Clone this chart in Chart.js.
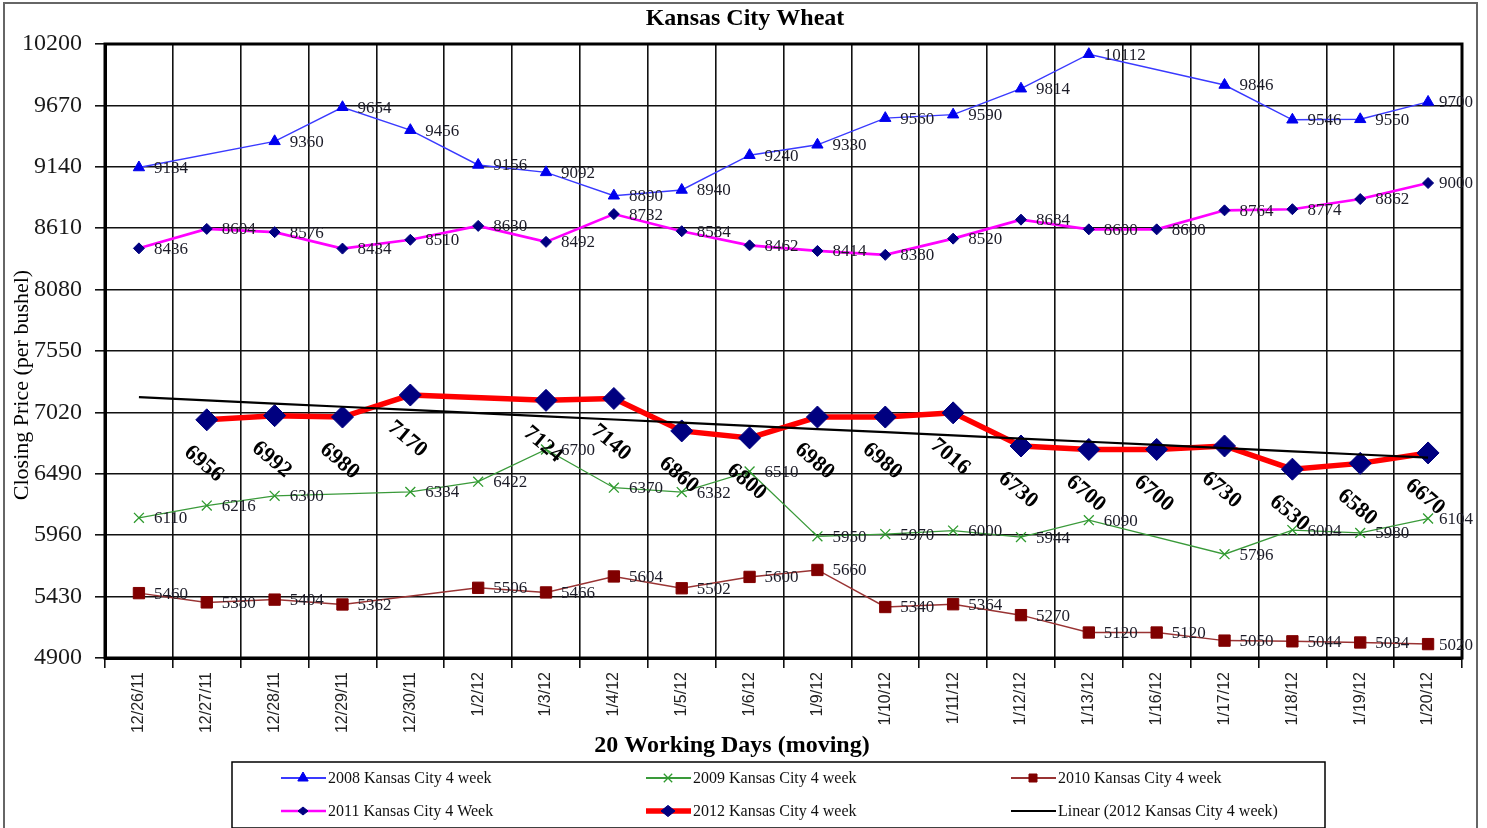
<!DOCTYPE html>
<html>
<head>
<meta charset="utf-8">
<script src="https://cdn.jsdelivr.net/npm/chart.js@4.4.1/dist/chart.umd.min.js"></script>
<style>
html,body{margin:0;padding:0;background:#fff;overflow:hidden}
#c{display:block}
</style>
</head>
<body>
<canvas id="c" width="1487" height="828"></canvas>
<script>
// ---------- data ----------
const categories = ['12/26/11','12/27/11','12/28/11','12/29/11','12/30/11','1/2/12','1/3/12','1/4/12','1/5/12','1/6/12',
                    '1/9/12','1/10/12','1/11/12','1/12/12','1/13/12','1/16/12','1/17/12','1/18/12','1/19/12','1/20/12'];
const yTickValues = [4900,5430,5960,6490,7020,7550,8080,8610,9140,9670,10200];

const kc2008 = [9134,null,9360,9654,9456,9156,9092,8890,8940,9240,9330,9560,9590,9814,10112,null,9846,9546,9550,9700];
const kc2009 = [6110,6216,6300,null,6334,6422,6700,6370,6332,6510,5950,5970,6000,5944,6090,null,5796,6004,5980,6104];
const kc2010 = [5460,5380,5404,5362,null,5506,5466,5604,5502,5600,5660,5340,5364,5270,5120,5120,5050,5044,5034,5020];
const kc2011 = [8436,8604,8576,8434,8510,8630,8492,8732,8584,8462,8414,8380,8520,8684,8600,8600,8764,8774,8862,9000];
const kc2012 = [null,6956,6992,6980,7170,null,7124,7140,6860,6800,6980,6980,7016,6730,6700,6700,6730,6530,6580,6670];

const seriesNames = ['2008 Kansas City 4 week','2009 Kansas City 4 week','2010 Kansas City 4 week',
                     '2011 Kansas City 4 Week','2012 Kansas City 4 week','Linear (2012 Kansas City 4 week)'];

// Excel-style linear trendline (least squares over category index) of the 2012 series
function linearTrend(vals){
  let n=0,sx=0,sy=0,sxy=0,sxx=0;
  vals.forEach((v,i)=>{ if(v==null) return; const x=i+1; n++; sx+=x; sy+=v; sxy+=x*v; sxx+=x*x; });
  const b=(n*sxy-sx*sy)/(n*sxx-sx*sx), a=(sy-b*sx)/n;
  return vals.map((_,i)=>a+b*(i+1));
}
const trend2012 = linearTrend(kc2012);

// ---------- plugin: frame, title, border, labels, legend ----------
const SERIF = '"Liberation Serif","Times New Roman",serif';
function marker(ctx, style, x, y, r, fill, stroke, lw){
  ctx.save();
  ctx.beginPath();
  ctx.fillStyle = fill; ctx.strokeStyle = stroke; ctx.lineWidth = lw || 1;
  if(style==='triangle'){
    ctx.moveTo(x, y - r); ctx.lineTo(x + r*0.866, y + r*0.5); ctx.lineTo(x - r*0.866, y + r*0.5); ctx.closePath();
    ctx.fill(); ctx.stroke();
  } else if(style==='rect'){
    ctx.rect(x-r, y-r, 2*r, 2*r); ctx.fill(); ctx.stroke();
  } else if(style==='rectRot'){
    ctx.moveTo(x-r,y); ctx.lineTo(x,y-r*0.8); ctx.lineTo(x+r,y); ctx.lineTo(x,y+r*0.8); ctx.closePath();
    ctx.fill(); ctx.stroke();
  } else if(style==='crossRot'){
    ctx.moveTo(x-r*0.7,y-r*0.7); ctx.lineTo(x+r*0.7,y+r*0.7);
    ctx.moveTo(x+r*0.7,y-r*0.7); ctx.lineTo(x-r*0.7,y+r*0.7);
    ctx.stroke();
  }
  ctx.restore();
}

const decor = {
  id: 'decor',
  beforeDraw(chart){
    const ctx = chart.ctx;
    ctx.save();
    ctx.fillStyle = '#fff';
    ctx.fillRect(0,0,chart.width,chart.height);
    ctx.strokeStyle = '#666'; ctx.lineWidth = 2;
    ctx.strokeRect(4, 3, 1473, 840);
    ctx.restore();
  },
  beforeDatasetsDraw(chart){
    const {ctx, chartArea:a} = chart;
    ctx.save();
    ctx.strokeStyle = '#000'; ctx.lineWidth = 3;
    ctx.strokeRect(a.left, a.top, a.right-a.left, a.bottom-a.top);
    ctx.restore();
  },
  afterDatasetsDraw(chart){
    const ctx = chart.ctx;
    chart.data.datasets.forEach((ds,i)=>{
      if(!ds.labelMode) return;
      const meta = chart.getDatasetMeta(i);
      meta.data.forEach((pt,j)=>{
        const v = ds.data[j]; if(v==null) return;
        const txt = String(v);
        ctx.save();
        ctx.fillStyle = '#1c1c28';
        if(ds.labelMode==='right'){
          ctx.font = '17px ' + SERIF;
          ctx.textAlign = 'left'; ctx.textBaseline = 'middle';
          const w = ctx.measureText(txt).width;
          let x = pt.x + 15;
          if(x + w > 1473) x = 1473 - w;
          ctx.fillText(txt, x, pt.y + 1);
        } else {
          ctx.translate(pt.x - 3, pt.y + 44);
          ctx.rotate(40*Math.PI/180);
          ctx.font = 'bold 22px ' + SERIF;
          ctx.fillStyle = '#000';
          ctx.textAlign = 'center'; ctx.textBaseline = 'middle';
          ctx.fillText(txt, 0, 0);
        }
        ctx.restore();
      });
    });
  },
  afterDraw(chart){
    const ctx = chart.ctx;
    ctx.save();
    // title
    ctx.fillStyle = '#000';
    ctx.font = 'bold 24px ' + SERIF;
    ctx.textAlign = 'center'; ctx.textBaseline = 'middle';
    ctx.fillText('Kansas City Wheat', 745, 19);
    // x axis title
    ctx.fillText('20 Working Days (moving)', 732, 746);
    // y axis title
    ctx.save();
    ctx.translate(22, 385); ctx.rotate(-Math.PI/2);
    ctx.font = '22px ' + SERIF;
    ctx.fillText('Closing Price (per bushel)', 0, 0);
    ctx.restore();
    // legend box
    ctx.fillStyle = '#fff';
    ctx.fillRect(232, 762, 1093, 66);
    ctx.strokeStyle = '#000'; ctx.lineWidth = 1.5;
    ctx.strokeRect(232, 762, 1093, 66);
    const pos = [[281,778],[646,778],[1011,778],[281,811],[646,811],[1011,811]];
    chart.data.datasets.forEach((ds,i)=>{
      const [x,y] = pos[ds.legendIndex];
      ctx.beginPath();
      ctx.strokeStyle = ds.borderColor; ctx.lineWidth = Math.max(ds.borderWidth, 2);
      ctx.moveTo(x, y); ctx.lineTo(x+45, y); ctx.stroke();
      if(ds.pointStyle && ds.pointRadius>0){
        const r = ds.legendMarkerR;
        marker(ctx, ds.pointStyle, x+22, y, r, ds.pointBackgroundColor, ds.pointBorderColor, ds.pointBorderWidth);
      }
      ctx.fillStyle = '#111';
      ctx.font = '16px ' + SERIF;
      ctx.textAlign = 'left'; ctx.textBaseline = 'middle';
      ctx.fillText(ds.label, x+47, y+1);
    });
    ctx.restore();
  }
};

// ---------- chart ----------
new Chart(document.getElementById('c'), {
  type: 'line',
  data: {
    labels: categories,
    datasets: [
      { label: seriesNames[5], data: trend2012, legendIndex:5, order:0,
        borderColor:'#000', borderWidth:2.2, pointRadius:0, pointStyle:false, fill:false },
      { label: seriesNames[4], data: kc2012, legendIndex:4, order:1, labelMode:'rot', legendMarkerR:7,
        borderColor:'#ff0000', borderWidth:5.5, pointStyle:'rectRot', pointRadius:11,
        pointBackgroundColor:'#000080', pointBorderColor:'#000080', pointBorderWidth:1, spanGaps:true },
      { label: seriesNames[0], data: kc2008, legendIndex:0, order:2, labelMode:'right', legendMarkerR:6,
        borderColor:'#3a3aff', borderWidth:1.4, pointStyle:'triangle', pointRadius:6.5,
        pointBackgroundColor:'#0000ee', pointBorderColor:'#0000ee', pointBorderWidth:1, spanGaps:true },
      { label: seriesNames[1], data: kc2009, legendIndex:1, order:3, labelMode:'right', legendMarkerR:6,
        borderColor:'#3a9a3a', borderWidth:1.3, pointStyle:'crossRot', pointRadius:7,
        pointBackgroundColor:'#2e9a2e', pointBorderColor:'#2e9a2e', pointBorderWidth:1.3, spanGaps:true },
      { label: seriesNames[2], data: kc2010, legendIndex:2, order:4, labelMode:'right', legendMarkerR:4,
        borderColor:'#993333', borderWidth:1.5, pointStyle:'rect', pointRadius:8,
        pointBackgroundColor:'#800000', pointBorderColor:'#800000', pointBorderWidth:1, spanGaps:true },
      { label: seriesNames[3], data: kc2011, legendIndex:3, order:5, labelMode:'right', legendMarkerR:5,
        borderColor:'#ff00ff', borderWidth:2.6, pointStyle:'rectRot', pointRadius:5.5,
        pointBackgroundColor:'#000080', pointBorderColor:'#000080', pointBorderWidth:1, spanGaps:true }
    ]
  },
  options: {
    responsive: false,
    animation: false,
    devicePixelRatio: 1,
    elements: { line: { tension: 0 } },
    layout: { padding: { left: 0, right: 25, top: 44, bottom: 70 } },
    plugins: { legend: { display: false }, title: { display: false }, tooltip: { enabled: false } },
    scales: {
      x: {
        type: 'category',
        offset: true,
        grid: { offset: true, color: '#111', lineWidth: 1.6, tickLength: 10, drawTicks: true },
        border: { display: true, color: '#000', width: 3 },
        ticks: { autoSkip: false, maxRotation: 90, minRotation: 90, padding: 4,
                 color: '#222', font: { family: '"Liberation Sans", Arial, sans-serif', size: 16 } },
        afterFit(s){ s.height = 100; }
      },
      y: {
        min: 4900, max: 10200,
        afterBuildTicks(s){ s.ticks = yTickValues.map(v => ({ value: v })); },
        grid: { color: '#111', lineWidth: 1.6, tickLength: 10, drawTicks: true },
        border: { display: true, color: '#000', width: 3 },
        ticks: { padding: 13, color: '#1a1a1a', font: { family: '"Liberation Serif", serif', size: 24 },
                 callback: v => String(v) },
        afterFit(s){ s.width = 105; }
      }
    }
  },
  plugins: [decor]
});
</script>
</body>
</html>
